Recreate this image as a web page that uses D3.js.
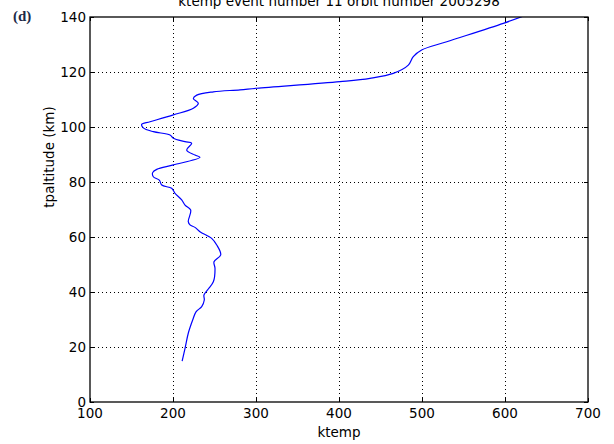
<!DOCTYPE html>
<html lang="en">
<head>
  <meta charset="UTF-8" />
  <title>ktemp profile - D3.js</title>
  <style>
    body { margin: 0; background: #fff; }
    svg { display: block; }
    text { font-family: "DejaVu Sans", sans-serif; fill: #000; }
    .grid line { stroke: #000; stroke-width: 1; stroke-dasharray: 1,3; }
    .frame { fill: none; stroke: #000; stroke-width: 1.3; }
    .tick-mark { stroke: #000; stroke-width: 1; }
  </style>
</head>
<body>
  <svg width="614" height="444"></svg>
  <script src="https://d3js.org/d3.v7.min.js"></script>
  <script>
    // profile (bottom to top)
    const ktemp = [211, 214.5, 218.4, 223.7, 227.7, 234.6, 237.7, 237.3, 242.5, 248.6,
      250.6, 249.4, 257.5, 252.7, 246.6, 232.5, 226.5, 220.5, 218.4, 221.3,
      214.5, 210.5, 202.4, 198.4, 186.4, 183.5, 176.3, 175.5, 180.4, 200.4,
      232.5, 226.5, 216.5, 222.5, 214.5, 200.4, 196.4, 176.3, 164.2, 162.3,
      172.3, 200.4, 224.5, 230.5, 224.5, 228.6, 248.6, 280.7, 300.8, 401.2,
      437.3, 465.4, 483.5, 489.5, 499.6, 529.8, 598.0, 621];
    const tpaltitude = [14.9, 19.5, 25.0, 29.8, 32.8, 34.7, 37.1, 38.9, 41.1, 43.7,
      48.6, 51.0, 53.5, 57.1, 59.5, 61.9, 63.5, 64.4, 65.6, 69.8,
      71.6, 73.5, 75.9, 77.7, 78.9, 80.7, 81.9, 83.4, 84.6, 86.2,
      89.0, 89.8, 91.6, 94.1, 94.7, 95.9, 97.1, 98.3, 99.7, 101.0,
      101.9, 104.4, 106.8, 108.6, 110.4, 111.6, 112.8, 113.5, 114.1, 116.5,
      117.7, 119.5, 122.5, 125.6, 128.0, 131.0, 137.7, 140.2];
    const xTicks = [100, 200, 300, 400, 500, 600, 700];
    const yTicks = [0, 20, 40, 60, 80, 100, 120, 140];

    const svg = d3.select("svg");
    const mL = 90, mR = 588, mT = 17, mB = 402;

    const x = d3.scaleLinear().domain([100, 700]).range([mL, mR]);
    const y = d3.scaleLinear().domain([0, 140]).range([mB, mT]);

    // grid
    const grid = svg.append("g").attr("class", "grid");
    grid.selectAll("line.v").data(xTicks.slice(1, -1)).enter().append("line")
      .attr("x1", d => Math.round(x(d)) + 0.5).attr("x2", d => Math.round(x(d)) + 0.5)
      .attr("y1", mT).attr("y2", mB);
    grid.selectAll("line.h").data(yTicks.slice(1, -1)).enter().append("line")
      .attr("y1", d => Math.round(y(d)) + 0.5).attr("y2", d => Math.round(y(d)) + 0.5)
      .attr("x1", mL).attr("x2", mR);

    // curve
    const pts = ktemp.map((t, i) => [t, tpaltitude[i]]);
    svg.append("clipPath").attr("id", "clip").append("rect")
      .attr("x", mL).attr("y", mT).attr("width", mR - mL).attr("height", mB - mT);
    svg.append("path")
      .datum(pts)
      .attr("clip-path", "url(#clip)")
      .attr("fill", "none")
      .attr("stroke", "#0000ff")
      .attr("stroke-width", 1.2)
      .attr("d", d3.line().x(d => x(d[0])).y(d => y(d[1])).curve(d3.curveCatmullRom.alpha(0.5)));

    // inward ticks on all sides
    const tk = svg.append("g");
    xTicks.forEach(d => {
      const px = Math.round(x(d)) + 0.5;
      tk.append("line").attr("class", "tick-mark").attr("x1", px).attr("x2", px).attr("y1", mB).attr("y2", mB - 4);
      tk.append("line").attr("class", "tick-mark").attr("x1", px).attr("x2", px).attr("y1", mT).attr("y2", mT + 4);
    });
    yTicks.forEach(d => {
      const py = Math.round(y(d)) + 0.5;
      tk.append("line").attr("class", "tick-mark").attr("y1", py).attr("y2", py).attr("x1", mL).attr("x2", mL + 4);
      tk.append("line").attr("class", "tick-mark").attr("y1", py).attr("y2", py).attr("x1", mR).attr("x2", mR - 4);
    });

    svg.append("rect").attr("class", "frame")
      .attr("x", mL).attr("y", mT).attr("width", mR - mL).attr("height", mB - mT);

    // tick labels
    svg.append("g").selectAll("text").data(xTicks).enter().append("text")
      .attr("x", d => x(d)).attr("y", mB + 16)
      .attr("text-anchor", "middle").attr("font-size", 13.5)
      .text(d => d);
    svg.append("g").selectAll("text").data(yTicks).enter().append("text")
      .attr("x", mL - 4).attr("y", d => y(d) + 5)
      .attr("text-anchor", "end").attr("font-size", 13.5)
      .text(d => d);

    // labels
    svg.append("text").attr("x", (mL + mR) / 2).attr("y", 437)
      .attr("text-anchor", "middle").attr("font-size", 13.5).text("ktemp");
    svg.append("text").attr("transform", "translate(54,157) rotate(-90)")
      .attr("text-anchor", "middle").attr("font-size", 13.5).text("tpaltitude (km)");
    svg.append("text").attr("x", (mL + mR) / 2).attr("y", 6)
      .attr("text-anchor", "middle").attr("font-size", 13.5)
      .text("ktemp event number 11 orbit number 2005298");
    svg.append("text").attr("x", 13).attr("y", 21)
      .style("font-family", "'Liberation Serif', 'DejaVu Serif', serif")
      .style("font-weight", "bold").style("font-size", "15px")
      .style("fill", "#1c2a48")
      .text("(d)");
  </script>
</body>
</html>
